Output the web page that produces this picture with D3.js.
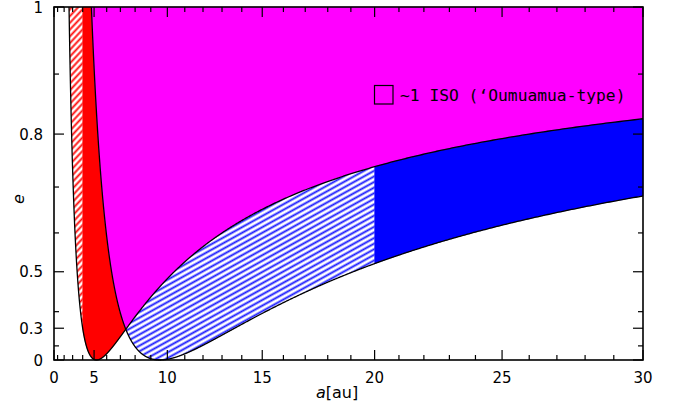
<!DOCTYPE html>
<html>
<head>
<meta charset="utf-8">
<script src="https://cdn.jsdelivr.net/npm/d3@7"></script>
<style>
  body { margin: 0; background: #fff; }
  svg { display: block; }
  text { font-family: "DejaVu Sans", sans-serif; fill: #000; }
</style>
</head>
<body>
<div id="chart"></div>
<script>
// region limits (au)
var periLimits = [5.2, 9.55];     // q = a(1-e)
var apoLimits = [5.2, 9.55];      // Q = a(1+e)
var hatchEdgeA = 4;               // left hatched strip ends here
var blueSplitA = 20;              // hatched / solid blue
var aMax = 30;

var xMajor = [0, 5, 10, 15, 20, 25, 30];
var xMinor = d3.range(0, 31).filter(function(d) { return d % 5 !== 0; });
var yMajor = [0, 0.3, 0.5, 0.8, 1];
var yMinor = [0.2, 0.37, 0.6, 0.7, 0.9];
var legendLabel = "~1 ISO (\u2018Oumuamua-type)";

var W = 681, H = 409;
var x = d3.scalePow().exponent(1.5).domain([0, aMax]).range([54, 643]);
var y = d3.scalePow().exponent(2).domain([0, 1]).range([360, 7]);

var svg = d3.select("#chart").append("svg")
    .attr("width", W).attr("height", H)
    .attr("xmlns", "http://www.w3.org/2000/svg");

var defs = svg.append("defs");
function hatch(id, color, angle, gap, sw) {
    var p = defs.append("pattern").attr("id", id)
        .attr("patternUnits", "userSpaceOnUse")
        .attr("width", 10).attr("height", gap)
        .attr("patternTransform", "rotate(" + angle + ")");
    p.append("rect").attr("width", 10).attr("height", gap).attr("fill", "#fff");
    p.append("rect").attr("x", 0).attr("width", 10)
        .attr("y", (gap - sw) / 2).attr("height", sw)
        .attr("fill", color);
}
hatch("hatchRed", "#ff1010", -47, 4.6, 1.9);
hatch("hatchBlue", "#1a1aff", -29, 4.9, 1.9);

var Q1 = apoLimits[0], Q2 = apoLimits[1], q1 = periLimits[0], q2 = periLimits[1];
function apo(Q) { return function(e) { return Q / (1 + e); }; }
function peri(q) { return function(e) { return e >= 1 ? Infinity : q / (1 - e); }; }

// e samples, with the corner points added
var eSamples = d3.range(0, 1.00001, 0.001);
eSamples.push((Q2 - q1) / (Q2 + q1));          // q1 meets Q2
eSamples.push(Q1 / hatchEdgeA - 1);            // Q1 meets a=4
eSamples.push(1 - q1 / blueSplitA, 1 - q2 / blueSplitA, 1 - q1 / aMax, 1 - q2 / aMax);
eSamples = eSamples.filter(function(e) { return e >= 0 && e <= 1; }).sort(d3.ascending);

// build a band between left(e) and right(e)
function band(left, right) {
    var lo = [], hi = [];
    eSamples.forEach(function(e) {
        var l = Math.max(0, left(e)), r = Math.min(aMax, right(e));
        if (r >= l - 1e-9) {
            lo.push([x(l), y(e)]);
            hi.push([x(Math.max(l, r)), y(e)]);
        }
    });
    return "M" + lo.concat(hi.reverse()).map(function(p) { return p.join(","); }).join("L") + "Z";
}

var regions = [
    { fill: "url(#hatchRed)",
      left: apo(Q1),
      right: function() { return hatchEdgeA; } },
    { fill: "#ff0000",
      left: function(e) { return Math.max(hatchEdgeA, apo(Q1)(e)); },
      right: function(e) { return Math.min(apo(Q2)(e), peri(q1)(e)); } },
    { fill: "#ff00ff",
      left: apo(Q2),
      right: function(e) { return Math.min(aMax, peri(q1)(e)); } },
    { fill: "url(#hatchBlue)",
      left: function(e) { return Math.max(peri(q1)(e), apo(Q2)(e)); },
      right: function(e) { return Math.min(blueSplitA, peri(q2)(e)); } },
    { fill: "#0000ff",
      left: function(e) { return Math.max(blueSplitA, peri(q1)(e), apo(Q2)(e)); },
      right: function(e) { return Math.min(aMax, peri(q2)(e)); } }
];

var area_g = svg.append("g").attr("class", "regions");
regions.forEach(function(r) {
    area_g.append("path").attr("d", band(r.left, r.right))
        .attr("fill", r.fill).attr("stroke", r.fill.indexOf("url") === 0 ? "none" : r.fill)
        .attr("stroke-width", 0.5);
});

// boundary curves
var curve = d3.line();
function curvePath(f) {
    var pts = [];
    eSamples.forEach(function(e) {
        var a = f(e);
        if (a <= aMax + 1e-9) pts.push([x(a), y(e)]);
    });
    return curve(pts);
}
var curves_g = svg.append("g").attr("fill", "none").attr("stroke", "#000").attr("stroke-width", 1.3);
[apo(Q1), apo(Q2), peri(q1), peri(q2)].forEach(function(f) {
    curves_g.append("path").attr("d", curvePath(f));
});

// frame and ticks
var frame = svg.append("g").attr("stroke", "#000");
frame.append("rect").attr("x", x(0)).attr("y", y(1))
    .attr("width", x(aMax) - x(0)).attr("height", y(0) - y(1))
    .attr("fill", "none").attr("stroke-width", 1.6);
function xTick(v, len) {
    frame.append("line").attr("x1", x(v)).attr("x2", x(v)).attr("y1", y(0)).attr("y2", y(0) - len).attr("stroke-width", 1.2);
    frame.append("line").attr("x1", x(v)).attr("x2", x(v)).attr("y1", y(1)).attr("y2", y(1) + len).attr("stroke-width", 1.2);
}
function yTick(v, len) {
    frame.append("line").attr("x1", x(0)).attr("x2", x(0) + len).attr("y1", y(v)).attr("y2", y(v)).attr("stroke-width", 1.2);
    frame.append("line").attr("x1", x(aMax)).attr("x2", x(aMax) - len).attr("y1", y(v)).attr("y2", y(v)).attr("stroke-width", 1.2);
}
xMajor.forEach(function(v) { xTick(v, 10); });
xMinor.forEach(function(v) { xTick(v, 5); });
yMajor.forEach(function(v) { yTick(v, 10); });
yMinor.forEach(function(v) { yTick(v, 5); });

svg.append("g").selectAll("text").data(xMajor).enter().append("text")
    .attr("x", function(d) { return x(d); }).attr("y", 383)
    .attr("text-anchor", "middle").style("font-size", "15px")
    .text(function(d) { return d; });
svg.append("g").selectAll("text").data(yMajor).enter().append("text")
    .attr("x", 43).attr("y", function(d) { return y(d) + 5.5; })
    .attr("text-anchor", "end").style("font-size", "15px")
    .text(function(d) { return d; });

// axis titles
var xt = svg.append("text").attr("x", 337).attr("y", 398)
    .attr("text-anchor", "middle").style("font-size", "16px");
xt.append("tspan").style("font-style", "italic").text("a");
xt.append("tspan").text("[au]");
svg.append("text").attr("transform", "translate(24,199) rotate(-90)")
    .attr("text-anchor", "middle").style("font-size", "16px").style("font-style", "italic")
    .text("e");

// legend
var lg = svg.append("g").attr("class", "legend");
lg.append("rect").attr("x", 374.5).attr("y", 85.5).attr("width", 18.5).attr("height", 18.5)
    .attr("fill", "none").attr("stroke", "#000").attr("stroke-width", 1.2);
lg.append("text").attr("x", 400).attr("y", 100.5)
    .style("font-family", "'DejaVu Sans Mono', monospace").style("font-size", "16.3px")
    .text(legendLabel);
</script>
</body>
</html>
